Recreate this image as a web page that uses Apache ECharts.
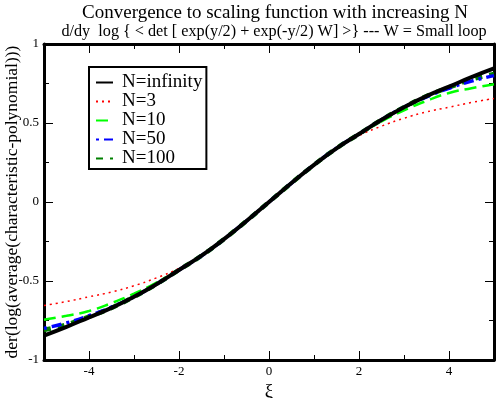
<!DOCTYPE html>
<html>
<head>
<meta charset="utf-8">
<script src="https://cdn.jsdelivr.net/npm/echarts@6/dist/echarts.min.js"></script>
<style>html,body{margin:0;padding:0;background:#fff;}#c{width:498px;height:398px;}</style>
</head>
<body>
<div id="c"></div>
<script>
const xs = [-5,-4.5,-4,-3.5,-3,-2.5,-2,-1.5,-1,-0.5,0,0.5,1,1.5,2,2.5,3,3.5,4,4.5,5];
const nInf = [-0.845,-0.79,-0.73,-0.67,-0.60,-0.52,-0.43,-0.34,-0.235,-0.12,0,0.12,0.235,0.34,0.43,0.52,0.60,0.67,0.73,0.79,0.845];
const n3   = [-0.655,-0.63,-0.60,-0.57,-0.53,-0.48,-0.42,-0.34,-0.235,-0.12,0,0.12,0.235,0.34,0.42,0.48,0.53,0.57,0.60,0.63,0.655];
const n10  = [-0.745,-0.72,-0.69,-0.64,-0.58,-0.51,-0.43,-0.34,-0.235,-0.12,0,0.12,0.235,0.34,0.43,0.51,0.58,0.64,0.69,0.72,0.745];
const n50  = [-0.80,-0.765,-0.72,-0.665,-0.60,-0.52,-0.43,-0.34,-0.235,-0.12,0,0.12,0.235,0.34,0.43,0.52,0.60,0.665,0.72,0.765,0.80];
const n100 = [-0.81,-0.775,-0.725,-0.67,-0.60,-0.52,-0.43,-0.34,-0.235,-0.12,0,0.12,0.235,0.34,0.43,0.52,0.60,0.67,0.725,0.775,0.81];
const names = ['N=infinity','N=3','N=10','N=50','N=100'];
const xMajorTicks = [-4,-2,0,2,4];
const xMinorTicks = [-3,-1,1,3];
const titleText = 'Convergence to scaling function with increasing N';
const subText = 'd/dy  log { < det [ exp(y/2) + exp(-y/2) W] >} --- W = Small loop';
const xName = 'ξ';
const yName = 'der(log(average(characteristic-polynomial)))';

const pairs = ys => xs.map((x,i)=>[x, ys[i]]);
const F = 'Liberation Serif, Times New Roman, serif';
const tickS = {show:true, inside:true, length:9, lineStyle:{color:'#000', width:1}};
const minorS = {show:true, length:5, lineStyle:{color:'#000', width:1}};
const lineS = {show:true, onZero:false, lineStyle:{color:'#000', width:3}};
const noLine = {show:false, onZero:false};

const chart = echarts.init(document.getElementById('c'));
const styles = [
  {color:'#000000', width:4, type:'solid'},
  {color:'#ff0000', width:1.5, type:[2,4]},
  {color:'#00ff00', width:2.5, type:[12,6]},
  {color:'#0000ff', width:3.5, type:[3,5,10,5]},
  {color:'#008000', width:4.5, type:[7,7]}
];
const data = [nInf, n3, n10, n50, n100];
const xBase = {type:'value', min:-5, max:5, interval:1, splitLine:{show:false}};
chart.setOption({
  animation:false,
  backgroundColor:'#fff',
  title:[
    {text:titleText, left:270, textAlign:'center', top:-1, textStyle:{fontFamily:F, fontSize:19, fontWeight:'normal', color:'#000'}},
    {text:subText, left:269, textAlign:'center', top:19, textStyle:{fontFamily:F, fontSize:16.2, fontWeight:'normal', color:'#000'}}
  ],
  grid:{left:44, right:4, top:44, bottom:38, outerBoundsMode:'none', containLabel:false},
  legend:{
    orient:'vertical', left:89, top:67, data:names,
    itemWidth:17, itemHeight:8, itemGap:0, padding:[6,4,1,6],
    borderColor:'#000', borderWidth:2, backgroundColor:'#fff',
    itemStyle:{opacity:0},
    textStyle:{fontFamily:F, fontSize:19, color:'#000', padding:[0,0,0,4]}
  },
  xAxis:[
    Object.assign({}, xBase, {position:'bottom', name:xName, nameLocation:'middle', nameGap:15,
     nameTextStyle:{fontFamily:F, fontSize:19, color:'#000'},
     axisLine:lineS, axisTick:Object.assign({customValues:xMajorTicks}, tickS),
     axisLabel:{customValues:xMajorTicks, fontFamily:F, fontSize:13, color:'#000', margin:5}}),
    Object.assign({}, xBase, {position:'bottom', axisLine:noLine,
     axisTick:Object.assign({customValues:xMinorTicks}, tickS, {length:5}), axisLabel:{show:false}}),
    Object.assign({}, xBase, {position:'top', axisLine:lineS,
     axisTick:Object.assign({customValues:xMajorTicks}, tickS), axisLabel:{show:false}}),
    Object.assign({}, xBase, {position:'top', axisLine:noLine,
     axisTick:Object.assign({customValues:xMinorTicks}, tickS, {length:5}), axisLabel:{show:false}})
  ],
  yAxis:[
    {type:'value', min:-1, max:1, interval:0.5, name:yName, nameLocation:'middle', nameGap:23, nameMoveOverlap:false,
     nameTextStyle:{fontFamily:F, fontSize:17.5, color:'#000'},
     axisLine:lineS, axisTick:tickS, minorTick:Object.assign({splitNumber:2}, minorS), splitLine:{show:false},
     axisLabel:{fontFamily:F, fontSize:13, color:'#000', margin:5}},
    {type:'value', min:-1, max:1, interval:0.5, position:'right',
     axisLine:lineS, axisTick:tickS, minorTick:Object.assign({splitNumber:2}, minorS), splitLine:{show:false}, axisLabel:{show:false}}
  ],
  series: data.map((d,i)=>({
    name:names[i], type:'line', data:pairs(d), smooth:true, symbol:'none', showSymbol:false,
    lineStyle:styles[i], itemStyle:{color:styles[i].color}, z:10-i, xAxisIndex:0, yAxisIndex:0
  }))
});
</script>
</body>
</html>
